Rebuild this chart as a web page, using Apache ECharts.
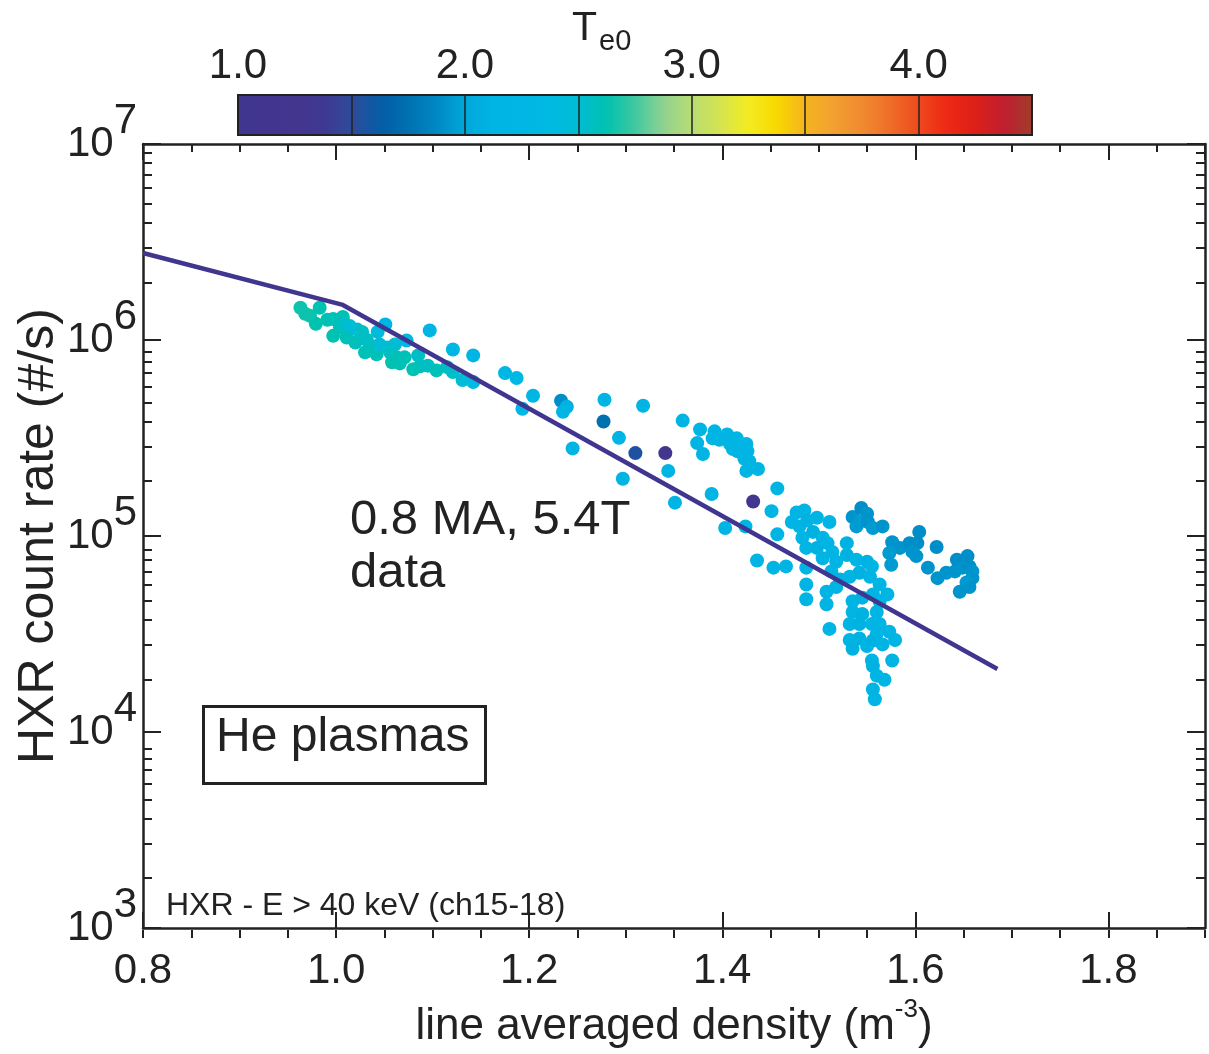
<!DOCTYPE html>
<html><head><meta charset="utf-8">
<script src="https://cdn.jsdelivr.net/npm/echarts@6/dist/echarts.min.js"></script>
<style>html,body{margin:0;padding:0;background:#fff}#c{width:1209px;height:1054px}</style>
</head><body><div id="c"></div>
<script>
// ---------------- data ----------------
const density = [
  // teal group (low density)
  0.963,0.968,0.973,0.983,0.979,0.991,0.997,1.007,0.997,1.011,1.004,1.009,1.014,1.022,1.027,1.020,1.032,1.030,1.037,1.042,
  1.045,1.043,1.053,1.061,1.056,1.063,1.071,1.058,1.066,1.080,1.087,1.085,1.095,1.104,1.115,1.121,1.131,1.142,
  // cyan points near the teal group
  1.051,1.073,1.097,1.121,1.142,1.175,1.187,
  // middle scattered points
  1.204,1.193,1.233,1.239,1.235,1.245,1.278,1.277,1.318,1.293,1.310,1.341,1.344,1.297,1.351,1.359,
  // upper cyan cluster
  1.377,1.374,1.380,1.392,1.390,1.397,1.405,1.408,1.415,1.411,1.416,1.425,1.426,1.423,1.428,1.425,1.437,1.457,1.432,1.451,
  1.389,1.403,1.424,1.457,1.436,1.453,1.466,
  // main cyan cluster
  1.477,1.485,1.472,1.480,1.488,1.498,1.511,1.494,1.504,1.483,1.487,1.498,1.509,1.514,1.529,1.504,1.518,1.529,1.539,1.550,
  1.555,1.487,1.513,1.522,1.532,1.542,1.553,1.563,1.571,1.487,1.508,1.518,1.487,1.508,1.535,1.545,1.556,1.563,1.535,1.545,
  1.560,1.532,1.542,1.555,1.563,1.511,1.532,1.542,1.550,1.535,1.560,1.573,1.579,1.556,1.566,1.555,1.576,1.556,1.560,1.568,
  1.556,1.558,
  // right (darker blue) cluster
  1.535,1.544,1.550,1.542,1.539,1.551,1.556,1.566,1.604,1.576,1.584,1.594,1.602,1.597,1.601,1.573,1.575,1.613,1.622,1.623,
  1.632,1.643,1.641,1.654,1.649,1.656,1.659,1.659,1.653,1.646,1.656
];
const countRate = [
  1.46e6,1.36e6,1.33e6,1.46e6,1.21e6,1.27e6,1.28e6,1.31e6,1.05e6,1.03e6,1.16e6,1.21e6,1.18e6,1.13e6,1.10e6,9.7e5,1.0e6,8.65e5,9.17e5,8.45e5,
  9.5e5,1.10e6,9.17e5,9.5e5,8.65e5,8.16e5,8.16e5,7.7e5,7.6e5,7.1e5,7.35e5,8.35e5,7.4e5,7.0e5,7.27e5,6.86e5,6.25e5,6.11e5,
  1.20e6,9.95e5,1.12e6,8.95e5,8.35e5,6.78e5,6.4e5,
  5.2e5,4.46e5,4.9e5,4.57e5,4.31e5,2.8e5,4.96e5,3.84e5,4.62e5,3.17e5,2.65e5,2.65e5,2.15e5,1.96e5,1.48e5,3.88e5,
  3.5e5,2.98e5,2.62e5,3.42e5,3.15e5,3.1e5,3.3e5,2.95e5,3.15e5,2.78e5,2.71e5,2.95e5,2.71e5,2.48e5,2.41e5,2.15e5,2.2e5,1.75e5,1.5e5,1.34e5,
  1.64e5,1.10e5,1.12e5,1.02e5,7.5e4,6.9e4,7.0e4,
  1.32e5,1.35e5,1.18e5,1.12e5,1.2e5,1.24e5,1.18e5,1.05e5,9.8e4,9.8e4,8.7e4,8.7e4,9.2e4,8.3e4,9.2e4,7.7e4,7.4e4,8.0e4,7.57e4,7.4e4,
  7.0e4,6.9e4,6.6e4,6.0e4,6.2e4,6.5e4,6.2e4,5.66e4,5.04e4,5.66e4,5.2e4,5.5e4,4.76e4,4.49e4,4.65e4,4.85e4,5.04e4,4.65e4,4.1e4,4.0e4,
  4.1e4,3.56e4,3.56e4,3.56e4,3.56e4,3.36e4,2.95e4,3.0e4,2.75e4,2.66e4,3.17e4,3.25e4,2.95e4,2.93e4,2.8e4,2.32e4,2.32e4,2.17e4,1.94e4,1.85e4,
  1.65e4,1.47e4,
  1.25e5,1.39e5,1.30e5,1.18e5,1.12e5,1.18e5,1.10e5,1.12e5,1.05e5,9.3e4,8.7e4,9.2e4,9.2e4,8.3e4,7.9e4,8.2e4,7.14e4,6.9e4,8.8e4,6.1e4,
  6.5e4,7.57e4,6.6e4,7.9e4,6.9e4,7.0e4,6.6e4,6.1e4,5.8e4,5.2e4,5.5e4
];
const te0 = [
  2.65,2.65,2.65,2.62,2.62,2.62,2.6,2.6,2.62,2.6,2.6,2.55,2.5,2.5,2.55,2.58,2.55,2.6,2.58,2.6,
  2.5,2.45,2.5,2.5,2.55,2.6,2.6,2.62,2.6,2.62,2.6,2.55,2.55,2.6,2.55,2.55,2.5,2.4,
  2.2,2.3,2.2,2.25,2.2,2.25,2.3,
  2.25,2.25,1.9,2.1,2.2,2.2,2.2,1.75,2.2,2.2,1.55,1.2,2.2,2.2,2.2,2.2,
  2.2,2.2,2.2,2.2,2.2,2.2,2.2,2.2,2.2,2.2,2.2,2.2,2.2,2.2,2.2,2.2,2.15,2.2,1.2,2.2,
  2.2,2.2,2.2,2.2,2.2,2.2,2.2,
  2.15,2.15,2.2,2.15,2.1,2.15,2.15,2.1,2.15,2.2,2.15,2.1,2.15,2.15,2.1,2.2,2.15,2.1,2.15,2.1,
  2.15,2.2,2.15,2.1,2.15,2.1,2.15,2.15,2.2,2.2,2.15,2.15,2.2,2.2,2.15,2.1,2.15,2.15,2.15,2.1,
  2.15,2.15,2.1,2.15,2.15,2.2,2.15,2.1,2.15,2.1,2.15,2.2,2.2,2.1,2.15,2.15,2.2,2.1,2.15,2.2,
  2.15,2.2,
  1.92,1.9,1.92,1.95,1.95,1.92,1.95,1.92,1.9,1.92,1.92,1.9,1.9,1.92,1.92,1.95,1.95,1.92,1.9,1.92,
  1.92,1.9,1.92,1.9,1.92,1.9,1.92,1.92,1.95,1.92,1.92
];
const modelDensity = [0.8, 1.007, 1.685];
const modelRate = [2.78e6, 1.51e6, 2.1e4];
const yMajorTicks = [1e3, 1e4, 1e5, 1e6, 1e7];
const yMinorTicks = [2e3,3e3,4e3,5e3,6e3,7e3,8e3,9e3, 2e4,3e4,4e4,5e4,6e4,7e4,8e4,9e4,
                     2e5,3e5,4e5,5e5,6e5,7e5,8e5,9e5, 2e6,3e6,4e6,5e6,6e6,7e6,8e6,9e6];
const cbColors = ['#40358F','#41358F','#42368F','#403890','#2F4A9A','#055CA6','#0070B0','#0088C4',
  '#00A8DA','#00B4E4','#00B6E4','#00BAE2','#00BCD4','#00C2B0','#40C8A0','#90D290','#B8DC74',
  '#D4E450','#F4EC20','#F8D800','#F4B420','#F2A030','#F08A30','#EE6E28','#EE4A1E','#EE2814',
  '#DC2018','#C01E30','#A03C2C'];

// ---------------- chart ----------------
const INK = '#222222';
const F = '"Liberation Sans", Arial, Helvetica, sans-serif';
const points = density.map((d, i) => [d, countRate[i], te0[i]]);
const modelLine = modelDensity.map((d, i) => [d, modelRate[i]]);
const G = {left: 143, top: 144, width: 1062, height: 794};

const majorTick = len => ({show: true, inside: true, length: len, lineStyle: {color: INK, width: 2}});
const frameLine = {show: true, lineStyle: {color: INK, width: 2.5}};
const yLabelRich = {
  b: {fontSize: 42, lineHeight: 88, verticalAlign: 'middle', fontFamily: F, color: INK},
  e: {fontSize: 42, lineHeight: 42, verticalAlign: 'top', fontFamily: F, color: INK}
};

const option = {
  backgroundColor: '#fff',
  animation: false,
  grid: [
    Object.assign({}, G),
    Object.assign({}, G),
    {left: 238, top: 95, width: 794, height: 40, show: true, borderColor: INK, borderWidth: 2, backgroundColor: 'transparent', z: 10}
  ],
  xAxis: [
    {gridIndex: 0, type: 'value', min: 0.8, max: 1.9, interval: 0.2, position: 'bottom',
     axisLine: frameLine, axisTick: majorTick(16), splitLine: {show: false},
     axisLabel: {fontSize: 42, fontFamily: F, color: INK, margin: 22, showMaxLabel: false,
                 formatter: v => v.toFixed(1)},
     name: '{n|line averaged density (m}{s|-3}{n|)}', nameLocation: 'middle', nameGap: 64,
     nameTextStyle: {rich: {
       n: {fontSize: 44, lineHeight: 52, verticalAlign: 'bottom', fontFamily: F, color: INK},
       s: {fontSize: 26, lineHeight: 26, verticalAlign: 'top', fontFamily: F, color: INK}}}},
    {gridIndex: 0, type: 'value', min: 0.8, max: 1.9, interval: 0.2, position: 'top',
     axisLine: frameLine, axisTick: majorTick(16), splitLine: {show: false}, axisLabel: {show: false}},
    {gridIndex: 1, type: 'value', min: 0.8, max: 1.9, interval: 0.05, position: 'bottom',
     axisLine: {show: false}, axisTick: majorTick(8), splitLine: {show: false}, axisLabel: {show: false}},
    {gridIndex: 1, type: 'value', min: 0.8, max: 1.9, interval: 0.05, position: 'top',
     axisLine: {show: false}, axisTick: majorTick(8), splitLine: {show: false}, axisLabel: {show: false}},
    {gridIndex: 2, type: 'value', min: 1, max: 4.5, interval: 0.5, position: 'top', z: 10,
     axisLine: {show: false}, axisTick: {show: false},
     splitLine: {show: true, lineStyle: {color: INK, width: 1.5}},
     axisLabel: {fontSize: 42, fontFamily: F, color: INK, margin: 8, showMaxLabel: false,
                 formatter: v => (Math.abs(v - Math.round(v)) < 1e-6 ? v.toFixed(1) : '')}}
  ],
  yAxis: [
    {gridIndex: 0, type: 'log', logBase: 10, min: 1e3, max: 1e7, position: 'left',
     axisLine: frameLine, axisTick: Object.assign(majorTick(18), {customValues: yMajorTicks}),
     splitLine: {show: false},
     axisLabel: {customValues: yMajorTicks, margin: 6, rich: yLabelRich,
                 formatter: v => '{b|10}{e|' + Math.round(Math.log10(v)) + '}'},
     name: 'HXR count rate (#/s)', nameLocation: 'middle', nameRotate: 90, nameGap: 79,
     nameMoveOverlap: false,
     nameTextStyle: {fontSize: 50, fontFamily: F, color: INK}},
    {gridIndex: 0, type: 'log', logBase: 10, min: 1e3, max: 1e7, position: 'right',
     axisLine: frameLine, axisTick: Object.assign(majorTick(18), {customValues: yMajorTicks}),
     splitLine: {show: false}, axisLabel: {show: false}},
    {gridIndex: 1, type: 'log', logBase: 10, min: 1e3, max: 1e7, position: 'left',
     axisLine: {show: false}, axisTick: Object.assign(majorTick(9), {customValues: yMinorTicks}),
     splitLine: {show: false}, axisLabel: {show: false}},
    {gridIndex: 1, type: 'log', logBase: 10, min: 1e3, max: 1e7, position: 'right',
     axisLine: {show: false}, axisTick: Object.assign(majorTick(9), {customValues: yMinorTicks}),
     splitLine: {show: false}, axisLabel: {show: false}},
    {gridIndex: 2, type: 'value', min: 0, max: 1, show: false}
  ],
  visualMap: {
    type: 'continuous', seriesIndex: 0, dimension: 2, min: 1, max: 4.5,
    orient: 'horizontal', left: 238, top: 95, itemWidth: 40, itemHeight: 794,
    calculable: false, padding: 0, hoverLink: false, z: 1,
    inRange: {color: cbColors}
  },
  series: [
    {type: 'scatter', xAxisIndex: 0, yAxisIndex: 0, data: points, symbolSize: 14,
     itemStyle: {opacity: 1}, silent: true, z: 2},
    {type: 'line', xAxisIndex: 0, yAxisIndex: 0, data: modelLine, symbol: 'none', silent: true,
     lineStyle: {color: '#40368F', width: 4.5}, z: 3}
  ],
  graphic: [
    {type: 'text', x: 572, y: 29, style: {text: 'T', fontSize: 41, fontFamily: F, fill: INK, align: 'left', verticalAlign: 'middle'}},
    {type: 'text', x: 599, y: 42, style: {text: 'e0', fontSize: 29, fontFamily: F, fill: INK, align: 'left', verticalAlign: 'middle'}},
    {type: 'text', x: 350, y: 520, style: {text: '0.8 MA, 5.4T', fontSize: 49, fontFamily: F, fill: INK, align: 'left', verticalAlign: 'middle'}},
    {type: 'text', x: 350, y: 573, style: {text: 'data', fontSize: 49, fontFamily: F, fill: INK, align: 'left', verticalAlign: 'middle'}},
    {type: 'rect', shape: {x: 203.5, y: 706.5, width: 282, height: 77}, style: {fill: 'none', stroke: INK, lineWidth: 3}},
    {type: 'text', x: 216, y: 738, style: {text: 'He plasmas', fontSize: 48, fontFamily: F, fill: INK, align: 'left', verticalAlign: 'middle'}},
    {type: 'text', x: 166, y: 906, style: {text: 'HXR - E > 40 keV (ch15-18)', fontSize: 32, fontFamily: F, fill: INK, align: 'left', verticalAlign: 'middle'}}
  ]
};
const chart = echarts.init(document.getElementById('c'), null, {renderer: 'canvas'});
chart.setOption(option);
</script></body></html>
